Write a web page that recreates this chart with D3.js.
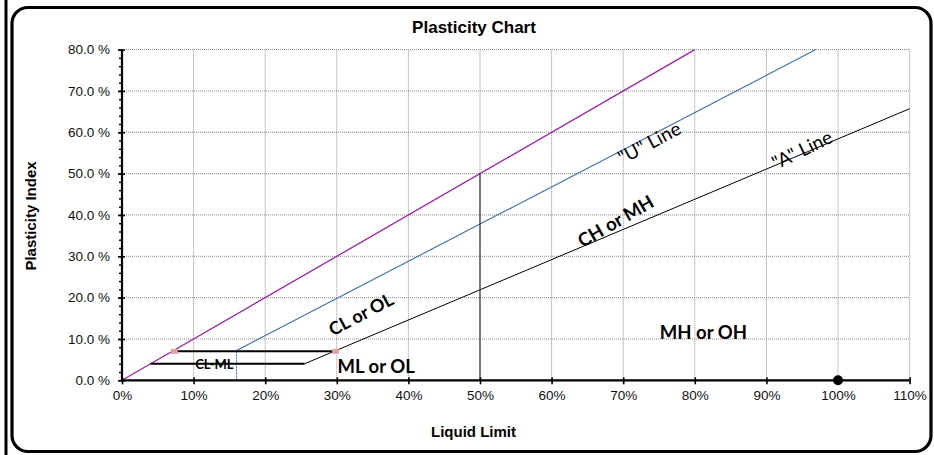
<!DOCTYPE html>
<html><head><meta charset="utf-8">
<script src="https://cdn.jsdelivr.net/npm/d3@7"></script>
<style>html,body{margin:0;padding:0;background:#fff;}svg{display:block;}</style>
</head><body>
<script>
// ---- data ----
const xTicks = [0,10,20,30,40,50,60,70,80,90,100,110];
const yTicks = [0,10,20,30,40,50,60,70,80];
const yMinorTicks = d3.range(0, 81, 2);
const equalityLine = [[0,0],[80,80]];
const uLineVertical = [[16,0],[16,7.2]];
const uLine = [[16,7.2],[96.9,80]];
const aLine = [[25.5,4],[110,65.7]];
const clmlLower = [[4,4],[25.5,4]];
const clmlUpper = [[7.3,7],[29.6,7]];
const ll50Line = [[50,0],[50,50]];
const pinkMarkers = [[7.3,7],[29.8,7]];
const samplePoints = [[100,0]];
const zoneLabels = [
  {text:"CL or OL", x:33.8, y:14.6, rot:-28, size:18, weight:"bold"},
  {text:"CH or MH", x:69.4, y:37.1, rot:-30, size:18.5, weight:"bold"},
  {text:"MH or OH", x:81.2, y:10, rot:0, size:18.5, weight:"bold"},
  {text:"ML or OL", x:35.5, y:1.7, rot:0, size:18.5, weight:"bold"},
  {text:"CL-ML", x:12.9, y:2.7, rot:0, size:13, weight:"bold"},
  {text:"\"U\" Line", x:74.1, y:56.0, rot:-28, size:19, weight:"normal"},
  {text:"\"A\" Line", x:95.4, y:54.3, rot:-26, size:19, weight:"normal"}
];

const W = 934, H = 455;
const svg = d3.select("body").append("svg").attr("width", W).attr("height", H);

// frame
svg.append("rect").attr("x",12).attr("y",7.5).attr("width",919).attr("height",444)
  .attr("rx",16).attr("fill","none").attr("stroke","#000").attr("stroke-width",3.2);
svg.append("line").attr("x1",6).attr("x2",6).attr("y1",0).attr("y2",H)
  .attr("stroke","#000").attr("stroke-width",3);

const x = d3.scaleLinear().domain([0,110]).range([122,909.6]);
const y = d3.scaleLinear().domain([0,80]).range([380.3,49.6]);

// grid
const grid = svg.append("g").attr("stroke","#8a8a8a").attr("stroke-width",1).attr("stroke-dasharray","1,1");
grid.selectAll(".gx").data(xTicks.slice(1)).join("line")
  .attr("x1",d=>x(d)).attr("x2",d=>x(d)).attr("y1",y(0)).attr("y2",y(80));
grid.selectAll(".gy").data(yTicks.slice(1)).join("line")
  .attr("x1",x(0)).attr("x2",x(110)).attr("y1",d=>y(d)).attr("y2",d=>y(d));

const line = d3.line().x(d=>x(d[0])).y(d=>y(d[1]));

// lines
svg.append("path").attr("d",line(equalityLine)).attr("fill","none").attr("stroke","#a020a8").attr("stroke-width",1.3);
svg.append("path").attr("d",line(uLine)).attr("fill","none").attr("stroke","#3d6ea8").attr("stroke-width",1.1);
svg.append("path").attr("d",line(uLineVertical)).attr("fill","none").attr("stroke","#3d6ea8").attr("stroke-width",1).attr("stroke-dasharray","2,1");
svg.append("path").attr("d",line(aLine)).attr("fill","none").attr("stroke","#000").attr("stroke-width",1);
svg.append("path").attr("d",line(ll50Line)).attr("fill","none").attr("stroke","#333").attr("stroke-width",1.2);
svg.append("path").attr("d",line(clmlLower)).attr("fill","none").attr("stroke","#000").attr("stroke-width",2);
svg.append("path").attr("d",line(clmlUpper)).attr("fill","none").attr("stroke","#000").attr("stroke-width",2);
svg.selectAll(".pm").data(pinkMarkers).join("rect")
  .attr("x",d=>x(d[0])-3.5).attr("y",d=>y(d[1])-2.5).attr("width",7).attr("height",5)
  .attr("fill","#e0a0a4");

// axes
const xAxis = svg.append("g").attr("transform",`translate(0,${y(0)})`)
  .call(d3.axisBottom(x).tickValues(xTicks).tickFormat(d=>d+"%").tickSize(4).tickPadding(6));
xAxis.select(".domain").attr("stroke-width",2.2).attr("d",`M${x(0)},0H${x(110)}`);
xAxis.selectAll(".tick line").attr("y1",-3).attr("stroke-width",1.6);
xAxis.selectAll(".tick text").attr("font-family","'Liberation Sans', Arial, sans-serif").attr("font-size",13.5).attr("fill","#111");

const yMinor = svg.append("g").attr("transform",`translate(${x(0)},0)`)
  .call(d3.axisLeft(y).tickValues(yMinorTicks).tickSize(3).tickFormat(""));
yMinor.select(".domain").remove();
yMinor.selectAll(".tick line").attr("stroke-width",1.4);

const yAxis = svg.append("g").attr("transform",`translate(${x(0)},0)`)
  .call(d3.axisLeft(y).tickValues(yTicks).tickFormat(d=>d3.format(".1f")(d)+" %").tickSize(4).tickPadding(8));
yAxis.select(".domain").attr("stroke-width",2.2).attr("d",`M0,${y(80)}V${y(0)}`);
yAxis.selectAll(".tick line").attr("x1",3).attr("stroke-width",1.6);
yAxis.selectAll(".tick text").attr("font-family","'Liberation Sans', Arial, sans-serif").attr("font-size",13.5).attr("fill","#111");

// sample points
svg.selectAll(".pt").data(samplePoints).join("circle")
  .attr("cx",d=>x(d[0])).attr("cy",d=>y(d[1])).attr("r",5).attr("fill","#000");

// zone labels
svg.selectAll(".zl").data(zoneLabels).join("text")
  .attr("transform",d=>`translate(${x(d.x)},${y(d.y)}) rotate(${d.rot})`)
  .attr("text-anchor","middle")
  .attr("font-family","Lato, 'Open Sans', sans-serif")
  .attr("font-size",d=>d.size).attr("font-weight",d=>d.weight)
  .attr("fill","#000")
  .text(d=>d.text);

// titles
svg.append("text").attr("x",474).attr("y",33).attr("text-anchor","middle")
  .attr("font-family","'Liberation Sans', Arial, sans-serif").attr("font-weight","bold").attr("font-size",17)
  .text("Plasticity Chart");
svg.append("text").attr("x",473.5).attr("y",437).attr("text-anchor","middle")
  .attr("font-family","'Liberation Sans', Arial, sans-serif").attr("font-weight","bold").attr("font-size",15)
  .text("Liquid Limit");
svg.append("text").attr("transform","translate(36,216) rotate(-90)").attr("text-anchor","middle")
  .attr("font-family","'Liberation Sans', Arial, sans-serif").attr("font-weight","bold").attr("font-size",15)
  .text("Plasticity Index");
</script>
</body></html>
